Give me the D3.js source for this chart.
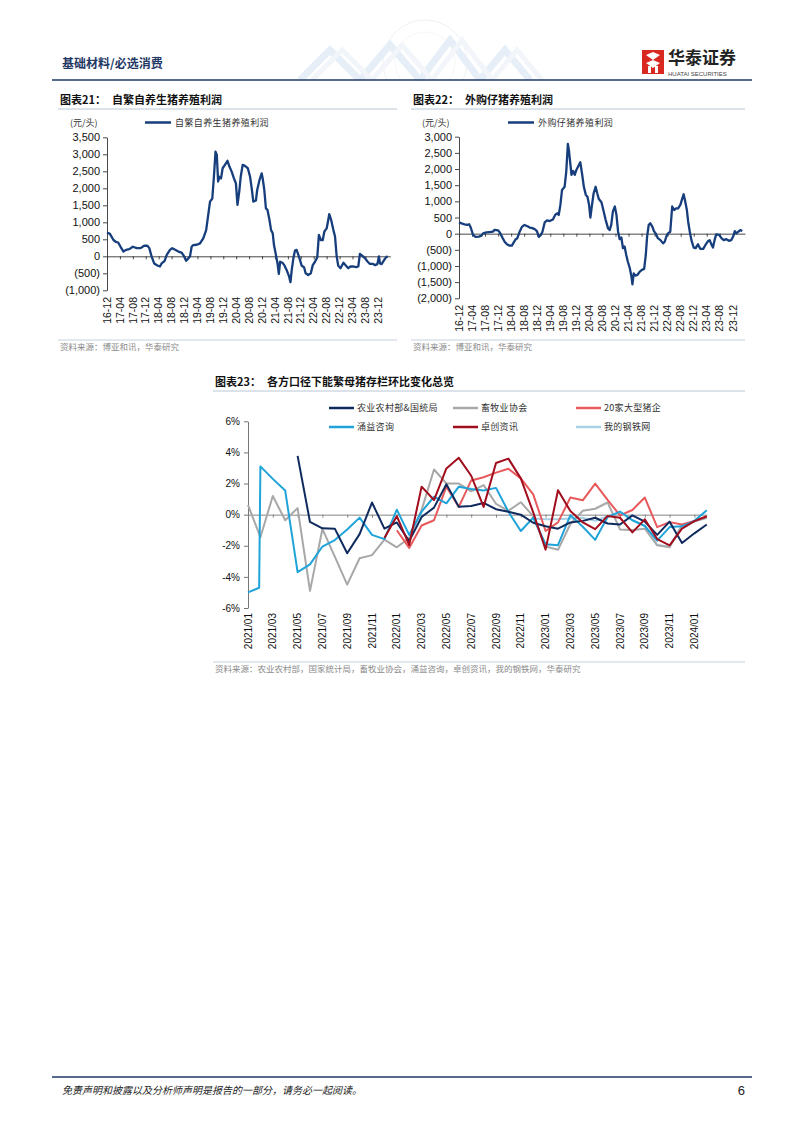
<!DOCTYPE html>
<html><head><meta charset="utf-8">
<script src="https://cdn.jsdelivr.net/npm/d3@7"></script>
<style>
body{margin:0;background:#fff;}
svg text{font-family:"Liberation Sans",Arial,sans-serif;}
svg text.cn{font-family:"Noto Sans CJK SC","Noto Sans",sans-serif;}
</style></head><body>
<svg id="page" width="802" height="1133"></svg>
<script>
// ---------- DATA ----------
// Chart 21: 自繁自养生猪养殖利润 (months since 2016-12, 元/头)
const zfT = [0,0.9,2.0,2.8,3.5,4.2,5.1,5.9,6.9,8.0,9.2,10.4,11.5,12.5,13.1,13.8,14.6,15.6,16.4,16.9,17.8,18.5,19.5,20.2,21.1,22.1,23.1,23.8,24.5,25.2,25.7,26.2,26.7,27.8,28.8,29.8,30.7,31.4,31.9,32.6,33.1,33.6,34.0,34.4,34.8,35.3,35.8,36.5,37.3,37.9,38.6,39.3,39.9,40.4,41.0,41.4,42.0,42.7,43.6,44.3,44.8,45.3,46.1,46.5,47.2,47.9,48.2,48.7,49.2,49.7,50.3,50.8,51.3,51.7,52.2,52.8,53.2,53.6,54.3,54.9,55.6,56.4,56.8,57.2,57.7,58.2,58.7,59.4,60.3,61.0,61.5,62.3,63.1,63.7,64.4,65.1,65.6,66.2,66.8,67.3,68.0,68.5,68.8,69.4,70.1,70.6,71.1,71.6,72.3,73.2,74.0,74.7,75.4,76.3,77.1,77.8,78.3,79.1,79.9,80.7,81.4,82.3,83.0,83.7,84.2,84.5,85.0,85.8,86.4,86.9];
const zfV = [700,660,480,420,400,280,140,190,210,280,240,240,310,310,240,0,-210,-270,-300,-210,-140,40,190,240,190,140,110,10,-130,-60,0,280,330,340,380,530,770,1260,1610,1700,2340,3080,2980,2200,2340,2290,2590,2690,2810,2640,2490,2290,2150,1510,1950,2340,2690,2660,2590,2340,2000,1610,1640,1950,2240,2440,2290,1950,1410,1360,1070,770,680,330,90,-210,-520,-160,-190,-260,-400,-600,-760,-400,-60,170,190,0,-280,-320,-500,-550,-500,-260,-160,-30,630,480,480,730,820,1070,1240,1070,770,580,0,-280,-350,-190,-280,-350,-300,-300,-320,-300,70,10,-60,-160,-220,-220,-260,-230,0,-210,-230,-110,-30,0];

// Chart 22: 外购仔猪养殖利润
const wgT = [0,1.0,1.7,2.5,3.1,3.6,4.3,5.1,6.1,6.9,7.4,8.4,9.4,10.4,10.9,12.0,12.5,13.3,14.0,14.7,15.5,16.2,16.8,17.4,17.9,18.6,19.3,20.1,21.0,21.7,22.5,23.2,23.9,24.5,25.1,25.6,26.3,27.0,27.8,28.8,29.5,30.1,30.6,31.1,31.6,32.4,32.9,33.4,33.7,34.2,34.5,35.0,35.5,36.0,36.5,37.2,37.8,38.3,38.9,39.4,39.9,40.3,40.8,41.3,41.9,42.4,42.9,43.7,44.4,45.0,45.7,46.2,46.7,47.2,47.8,48.3,48.8,49.3,49.8,50.3,50.8,51.3,51.8,52.4,52.9,53.2,53.6,54.1,54.7,55.4,56.1,56.8,57.3,57.7,58.2,58.7,59.3,59.8,60.3,61.0,61.8,62.6,63.1,63.6,64.1,64.8,65.4,66.0,66.5,67.2,67.9,68.5,68.9,69.3,69.9,70.3,70.8,71.3,72.0,72.6,73.3,74.0,74.9,75.6,76.4,76.9,77.4,77.9,78.4,78.9,79.8,80.5,81.2,82.0,82.8,83.5,84.1,84.6,85.1,85.7,86.3,86.9];
const wgV = [350,310,290,270,290,190,-40,-100,-90,-60,10,40,50,60,120,100,40,-120,-250,-330,-370,-370,-270,-170,-140,60,210,270,230,190,170,140,80,-100,-40,60,350,410,390,440,580,630,580,890,1350,1450,1920,2780,2590,2120,1820,1940,1820,1970,2070,2210,1820,1450,1200,1140,890,500,890,1250,1450,1250,1070,970,680,420,170,110,270,680,840,580,60,-170,-120,-450,-400,-660,-870,-1070,-1330,-1570,-1230,-1300,-1280,-1180,-1120,-1090,-660,-90,270,320,220,80,10,-140,-200,-300,-250,-90,10,60,840,730,780,780,890,1090,1220,1040,730,370,60,-200,-430,-450,-330,-470,-470,-350,-230,-200,-330,-430,-200,-20,-40,-140,-200,-170,-220,-200,-90,80,10,60,110,80];

const profitTickLabels = ["16-12","17-04","17-08","17-12","18-04","18-08","18-12","19-04","19-08","19-12","20-04","20-08","20-12","21-04","21-08","21-12","22-04","22-08","22-12","23-04","23-08","23-12"];

// Chart 23: 能繁母猪存栏环比 (%)
const months = ["2021/01","2021/02","2021/03","2021/04","2021/05","2021/06","2021/07","2021/08","2021/09","2021/10","2021/11","2021/12","2022/01","2022/02","2022/03","2022/04","2022/05","2022/06","2022/07","2022/08","2022/09","2022/10","2022/11","2022/12","2023/01","2023/02","2023/03","2023/04","2023/05","2023/06","2023/07","2023/08","2023/09","2023/10","2023/11","2023/12","2024/01","2024/02"];
const nongye = [null,null,null,null,3.78,-0.47,-0.88,-0.9,-2.48,-1.25,0.78,-0.9,-0.5,-1.7,-0.15,0.45,1.95,0.5,0.55,0.75,0.35,0.18,0.0,-0.52,-0.75,-0.9,-0.5,-0.4,-0.2,-0.57,-0.63,-0.05,-0.45,-1.3,-0.45,-1.82,-1.2,-0.63];
const xumu = [0.62,-1.45,1.2,-0.36,0.42,-4.9,-0.92,-2.7,-4.5,-2.8,-2.6,-1.6,-2.1,-1.5,0.3,2.9,2.0,2.0,1.5,1.9,0.7,0.25,0.8,-0.1,-2.05,-2.26,-0.6,0.25,0.38,0.78,-0.95,-0.98,-0.9,-1.97,-2.1,-0.68,-0.43,-0.2];
const big20 = [null,null,null,null,null,null,null,null,null,null,null,null,-1.0,-2.14,-0.7,-0.36,1.8,0.5,2.2,2.4,2.7,2.95,2.33,1.3,-1.05,-0.5,1.1,0.92,2.0,0.95,-0.05,0.3,1.1,-0.8,-0.48,-0.63,-0.4,-0.13];
const yongyiT = [0,0.9,1,2,3,4,5,6,7,8,9,10,11,12,13,14,15,16,17,18,19,20,21,22,23,24,25,26,27,28,29,30,31,32,33,34,35,36,37];
const yongyiV = [-5.0,-4.7,3.1,2.3,1.55,-3.7,-3.2,-2.05,-1.63,-0.96,-0.19,-1.3,-1.57,0.32,-1.3,0.19,1.15,0.73,1.8,1.65,1.55,1.72,0.19,-1.05,-0.2,-1.9,-1.96,-0.03,-0.78,-1.62,-0.16,0.2,-0.36,-0.73,-1.67,-0.8,-0.75,-0.4,0.28];
const zhuochuang = [null,null,null,null,null,null,null,null,null,null,null,-1.5,-0.1,-1.95,1.8,0.94,2.97,3.65,2.5,0.5,3.32,3.6,2.33,0.15,-2.25,1.57,0.23,-0.5,-0.93,-0.08,-0.2,-1.14,-0.3,-1.57,-1.97,-0.9,-0.42,-0.1];
const mysteel = [null,null,null,null,null,null,null,null,null,null,null,null,null,null,null,null,null,null,null,null,null,null,null,-0.25,-0.3,-0.3,-0.25,-0.2,-0.4,-0.1,0.15,-0.35,-0.7,-1.95,-2.05,-0.7,-0.45,-0.2];
const seriesNames = ["农业农村部&国统局","畜牧业协会","20家大型猪企","涌益咨询","卓创资讯","我的钢铁网"];
const seriesColors = ["#0f2b5e","#a8a8a8","#e8595c","#1fa3d9","#a10d1d","#a9d0e4"];

// ---------- PAGE ----------
const svg = d3.select('#page');
const NAVY = '#1f3864';

// header watermark
const wm = svg.append('g').attr('opacity',0.22);
wm.append('circle').attr('cx',425).attr('cy',62).attr('r',42).attr('fill','none').attr('stroke','#b9c3cf').attr('stroke-width',1);
wm.append('circle').attr('cx',425).attr('cy',62).attr('r',30).attr('fill','none').attr('stroke','#c9d1db').attr('stroke-width',0.8);
const zig = [[300,80],[330,50],[360,80],[390,45],[420,80],[450,40],[480,80],[505,50],[530,80]];
wm.append('path').attr('d',d3.line()(zig)).attr('fill','none').attr('stroke','#8fb6dc').attr('stroke-width',7);
wm.append('path').attr('d',d3.line()(zig.map(p=>[p[0]+12,p[1]]))).attr('fill','none').attr('stroke','#c7d6e6').attr('stroke-width',5);
svg.append('rect').attr('x',280).attr('y',80.8).attr('width',280).attr('height',20).attr('fill','#fff');

svg.append('text').attr('class','cn').attr('x',62).attr('y',68).attr('font-size',12).attr('font-weight','bold').attr('fill',NAVY).text('基础材料/必选消费');
svg.append('line').attr('x1',52).attr('x2',752).attr('y1',80).attr('y2',80).attr('stroke',NAVY).attr('stroke-width',1.6);

// logo
const lg = svg.append('g');
lg.append('rect').attr('x',642).attr('y',50).attr('width',22).attr('height',24).attr('fill','#d9281f');
lg.append('path').attr('d','M646 55 L653 52 L660 55 L653 60 Z M646 63 L653 60 L660 63 L653 68 Z').attr('fill','#fff');
lg.append('rect').attr('x',648).attr('y',66).attr('width',3).attr('height',7).attr('fill','#fff');
lg.append('rect').attr('x',655).attr('y',66).attr('width',3).attr('height',7).attr('fill','#fff');
lg.append('text').attr('class','cn').attr('x',668).attr('y',64).attr('font-size',17).attr('font-weight','bold').attr('fill','#222').text('华泰证券');
lg.append('text').attr('x',668).attr('y',75.5).attr('font-size',6).attr('fill','#444').text('HUATAI SECURITIES');

// footer
svg.append('line').attr('x1',52).attr('x2',752).attr('y1',1077).attr('y2',1077).attr('stroke',NAVY).attr('stroke-width',1.6);
svg.append('text').attr('class','cn').attr('x',62).attr('y',1094).attr('font-size',10).attr('font-style','italic').attr('fill','#222').text('免责声明和披露以及分析师声明是报告的一部分，请务必一起阅读。');
svg.append('text').attr('x',745).attr('y',1095).attr('font-size',13).attr('text-anchor','end').attr('fill','#222').text('6');

function title(x, y, num, name, x2){
  const t = svg.append('text').attr('class','cn').attr('x',x).attr('y',y).attr('font-size',11).attr('font-weight','bold').attr('fill','#111');
  t.append('tspan').text('图表'+num+'：');
  t.append('tspan').attr('dx',6).text(name);
  svg.append('line').attr('x1',x-2).attr('x2',x2).attr('y1',y+5).attr('y2',y+5).attr('stroke','#a7b7c9').attr('stroke-width',0.8);
}
function source(x, y, txt, x2){
  svg.append('line').attr('x1',x-2).attr('x2',x2).attr('y1',y-10).attr('y2',y-10).attr('stroke','#b7c4d3').attr('stroke-width',0.8);
  svg.append('text').attr('class','cn').attr('x',x).attr('y',y).attr('font-size',8.5).attr('fill','#8a8a8a').text(txt);
}
const fmtK = v => v<0 ? '('+d3.format(',')(-v)+')' : d3.format(',')(v);

function profitChart(o){
  title(o.tx, 104, o.num, o.name, o.tx2);
  svg.append('text').attr('class','cn').attr('x',o.unitX).attr('y',126).attr('font-size',9).attr('fill','#333').text('(元/头)');
  svg.append('line').attr('x1',o.legX).attr('x2',o.legX+26).attr('y1',122.5).attr('y2',122.5).attr('stroke','#173e7c').attr('stroke-width',2.5);
  svg.append('text').attr('class','cn').attr('x',o.legX+30).attr('y',126).attr('font-size',9).attr('letter-spacing',0.4).attr('fill','#333').text(o.name);

  const x = d3.scaleLinear().domain([0,87.7]).range([o.x0, o.x0+87.7*o.pm]);
  const y = d3.scaleLinear().domain(o.yd).range(o.yr);
  const g = svg.append('g');
  const ya = g.append('g').attr('transform',`translate(${o.x0},0)`)
    .call(d3.axisLeft(y).tickValues(d3.range(o.yd[0],o.yd[1]+1,500)).tickSize(4).tickPadding(3).tickFormat(fmtK).tickSizeOuter(0));
  ya.selectAll('path,line').attr('stroke','#333').attr('stroke-width',0.9);
  ya.selectAll('text').attr('font-size',11).attr('fill','#111').attr('font-family','"Liberation Sans",Arial,sans-serif');
  const xa = g.append('g').attr('transform',`translate(0,${y(0)})`)
    .call(d3.axisBottom(x).tickValues(d3.range(0,88,4)).tickSize(3).tickFormat('').tickSizeOuter(0));
  xa.selectAll('path,line').attr('stroke','#333').attr('stroke-width',0.9);
  g.selectAll('.xl').data(profitTickLabels).join('text').attr('class','xl')
    .attr('transform',(d,i)=>`translate(${x(i*4)},${o.labY}) rotate(-90)`)
    .attr('text-anchor','end').attr('dy','0.35em').attr('font-size',10.5).attr('fill','#111').text(d=>d);
  const pts = o.t.map((t,i)=>[t,o.v[i]]);
  g.append('path').attr('d',d3.line().x(d=>x(d[0])).y(d=>y(d[1]))(pts))
    .attr('fill','none').attr('stroke','#173e7c').attr('stroke-width',2.3).attr('stroke-linejoin','round');
  source(o.tx, 350, '资料来源：博亚和讯，华泰研究', o.tx2);
}
profitChart({num:'21',name:'自繁自养生猪养殖利润',tx:60,tx2:397,unitX:70,legX:145,x0:107,pm:3.23,yd:[-1000,3500],yr:[290.3,137.3],labY:297,t:zfT,v:zfV});
profitChart({num:'22',name:'外购仔猪养殖利润',tx:413,tx2:745,unitX:422,legX:508,x0:459,pm:3.26,yd:[-2000,3000],yr:[298.3,136.7],labY:305,t:wgT,v:wgV});

// ---------- Chart 23 ----------
title(215, 386, '23', '各方口径下能繁母猪存栏环比变化总览', 745);
const legPos = [[329,408],[453,408],[576,408],[329,427],[453,427],[576,427]];
seriesNames.forEach((n,i)=>{
  const [lx,ly] = legPos[i];
  svg.append('line').attr('x1',lx).attr('x2',lx+25).attr('y1',ly).attr('y2',ly).attr('stroke',seriesColors[i]).attr('stroke-width',2.5);
  svg.append('text').attr('class','cn').attr('x',lx+28).attr('y',ly+3.2).attr('font-size',9).attr('letter-spacing',0.3).attr('fill','#333').text(n);
});
const x3 = d3.scaleLinear().domain([0,37]).range([248,706.8]);
const y3 = d3.scaleLinear().domain([-6,6]).range([608,421.3]);
const g3 = svg.append('g');
const ya3 = g3.append('g').attr('transform','translate(248,0)')
  .call(d3.axisLeft(y3).tickValues(d3.range(-6,7,2)).tickSize(4).tickPadding(4).tickFormat(d=>d+'%').tickSizeOuter(0));
ya3.selectAll('path,line').attr('stroke','#666').attr('stroke-width',0.9);
ya3.selectAll('text').attr('font-size',10).attr('fill','#111').attr('font-family','"Liberation Sans",Arial,sans-serif');
const xa3 = g3.append('g').attr('transform',`translate(0,${y3(0)})`)
  .call(d3.axisBottom(x3).tickValues(d3.range(0,38,2)).tickSize(3).tickFormat('').tickSizeOuter(0));
xa3.selectAll('path,line').attr('stroke','#777').attr('stroke-width',0.9);
g3.selectAll('.xl3').data(months.filter((m,i)=>i%2===0)).join('text').attr('class','xl3')
  .attr('transform',(d)=>`translate(${x3(months.indexOf(d))},613) rotate(-90)`)
  .attr('text-anchor','end').attr('dy','0.35em').attr('font-size',10).attr('fill','#111').text(d=>d);
const line3 = d3.line().defined(d=>d[1]!=null).x(d=>x3(d[0])).y(d=>y3(d[1]));
const seriesData = [
  nongye.map((v,i)=>[i,v]),
  xumu.map((v,i)=>[i,v]),
  big20.map((v,i)=>[i,v]),
  yongyiV.map((v,i)=>[yongyiT[i],v]),
  zhuochuang.map((v,i)=>[i,v]),
  mysteel.map((v,i)=>[i,v])
];
const drawOrder = [5,1,2,3,0,4];
drawOrder.forEach(k=>{
  g3.append('path').attr('d',line3(seriesData[k])).attr('fill','none')
    .attr('stroke',seriesColors[k]).attr('stroke-width',2).attr('stroke-linejoin','round');
});
source(215, 672, '资料来源：农业农村部，国家统计局，畜牧业协会，涌益咨询，卓创资讯，我的钢铁网，华泰研究', 745);
</script></body></html>
